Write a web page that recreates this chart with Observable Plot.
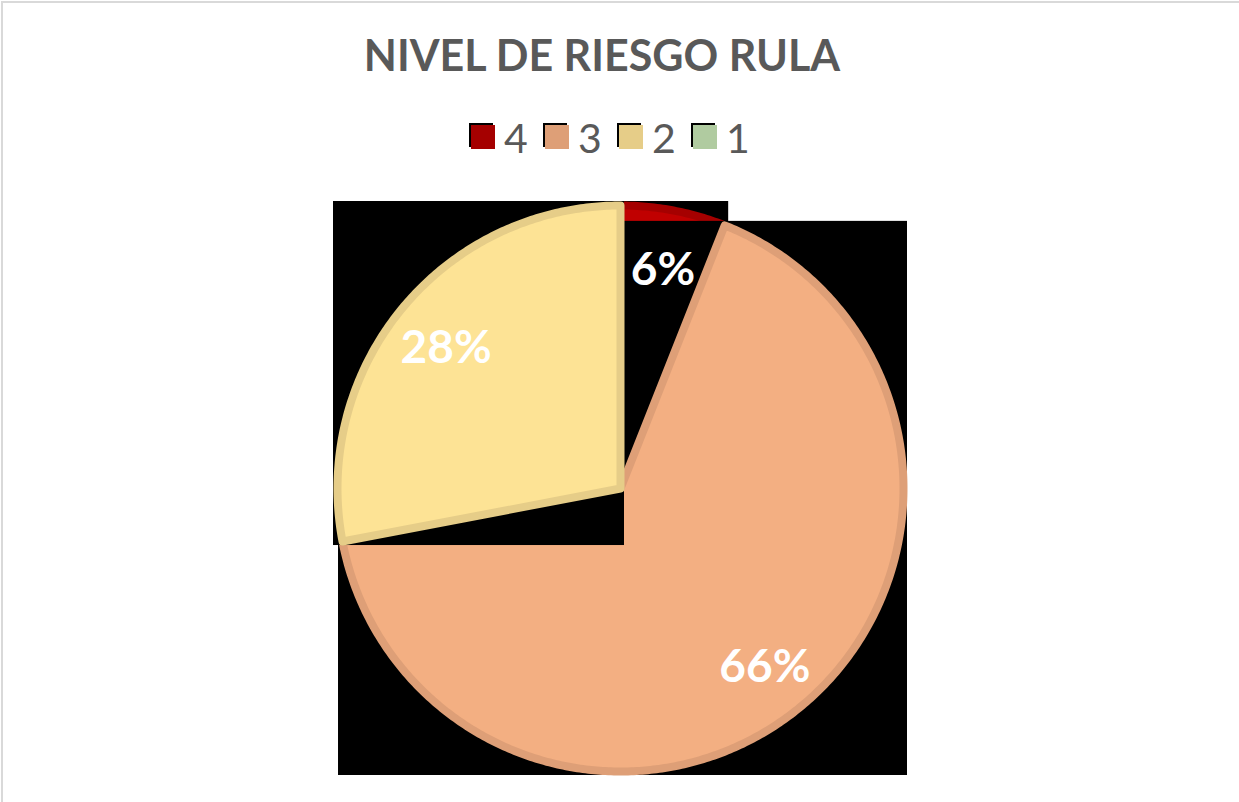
<!DOCTYPE html>
<html>
<head>
<meta charset="utf-8">
<script src="https://cdn.jsdelivr.net/npm/d3@7"></script>
<script src="https://cdn.jsdelivr.net/npm/@observablehq/plot@0.6"></script>
<style>
  html, body { margin: 0; padding: 0; background: #fff; }
  #wrap { position: relative; width: 1239px; height: 802px; overflow: hidden; background: #fff; }
  #frame { position: absolute; left: 1px; top: 1px; width: 1300px; height: 900px; border-top: 2px solid #d9d9d9; border-left: 2px solid #d9d9d9; }
  #title { position: absolute; top: 28px; left: 0; width: 1204px; text-align: center; font-family: Lato, "Open Sans", sans-serif; font-weight: 700; font-size: 43px; line-height: 54px; color: #595959; letter-spacing: 0px; }
  .item { position: absolute; top: 117px; height: 40px; display: flex; align-items: center; font-family: Lato, "Open Sans", sans-serif; font-size: 41px; color: #595959; }
  .sw { width: 24px; height: 24px; margin-right: 9px; box-shadow: -2px -2px 0 #000; }
  #chart { position: absolute; top: 180px; left: 0; }
</style>
</head>
<body>
<div id="wrap">
  <div id="frame"></div>
  <div id="title"></div>
  <div id="legend"></div>
  <div id="chart"></div>
</div>
<script>
// ---- data ----
const chartTitle = "NIVEL DE RIESGO RULA";
const levels = ["4", "3", "2", "1"];
const shares = [6, 66, 28, 0];
const fillColors = ["#C00000", "#F3AF82", "#FDE395", "#C5E0B4"];
const edgeColors = ["#A50000", "#DE9F77", "#E6CD88", "#B0CBA0"];

// ---- title & legend ----
document.getElementById("title").textContent = chartTitle;
const legend = document.getElementById("legend");
levels.forEach((lv, i) => {
  const it = document.createElement("div");
  it.className = "item";
  it.style.left = (471 + 74 * i) + "px";
  const sw = document.createElement("div");
  sw.className = "sw";
  sw.style.background = edgeColors[i];
  const t = document.createElement("span");
  t.textContent = lv;
  it.appendChild(sw); it.appendChild(t);
  legend.appendChild(it);
});

// ---- pie geometry (units: pixels around the pie centre) ----
const W = 1239, H = 622;
const cx = 620, cy = 308;     // centre inside the svg
const R = 283, SW = 8;        // path radius and stroke width

const total = d3.sum(shares);
const rows = levels.map((lv, i) => ({level: lv, value: shares[i], i}));
const arcs = d3.pie().sort(null).value(d => d.value)(rows);

const slices = arcs.filter(a => a.data.value > 0).map(a => {
  const n = Math.max(2, Math.ceil((a.endAngle - a.startAngle) / 0.01));
  const pts = [{x: 0, y: 0, level: a.data.level}];
  for (let k = 0; k <= n; k++) {
    const t = a.startAngle + (a.endAngle - a.startAngle) * k / n;
    pts.push({x: R * Math.sin(t), y: R * Math.cos(t), level: a.data.level});
  }
  const box = {
    x1: d3.min(pts, p => p.x), x2: d3.max(pts, p => p.x),
    y1: d3.min(pts, p => p.y), y2: d3.max(pts, p => p.y)
  };
  const mid = (a.startAngle + a.endAngle) / 2;
  const label = {
    x: 0.8 * R * Math.sin(mid), y: 0.8 * R * Math.cos(mid),
    text: Math.round(a.data.value / total * 100) + "%"
  };
  return {pts, box, label, i: a.data.i, level: a.data.level};
});

const marks = slices.flatMap(s => [
  Plot.rect([s.box], {x1: "x1", x2: "x2", y1: "y1", y2: "y2", fill: "black", inset: -SW / 2}),
  Plot.line(s.pts, {x: "x", y: "y", fill: "level", stroke: edgeColors[s.i], strokeWidth: SW,
    curve: "linear-closed", strokeLinejoin: "round"})
]);
marks.push(Plot.text(slices.map(s => s.label), {
  x: "x", y: "y", text: "text", fill: "white", fontSize: 46, fontWeight: 700, dy: 4,
  fontFamily: "Lato, 'Open Sans', sans-serif"
}));

const plot = Plot.plot({
  width: W, height: H,
  margin: 0,
  x: {domain: [-cx, W - cx], range: [0, W], axis: null},
  y: {domain: [cy, cy - H], range: [0, H], axis: null},
  color: {type: "ordinal", domain: levels, range: fillColors},
  style: {background: "transparent", overflow: "visible"},
  marks
});
document.getElementById("chart").appendChild(plot);
</script>
</body>
</html>
